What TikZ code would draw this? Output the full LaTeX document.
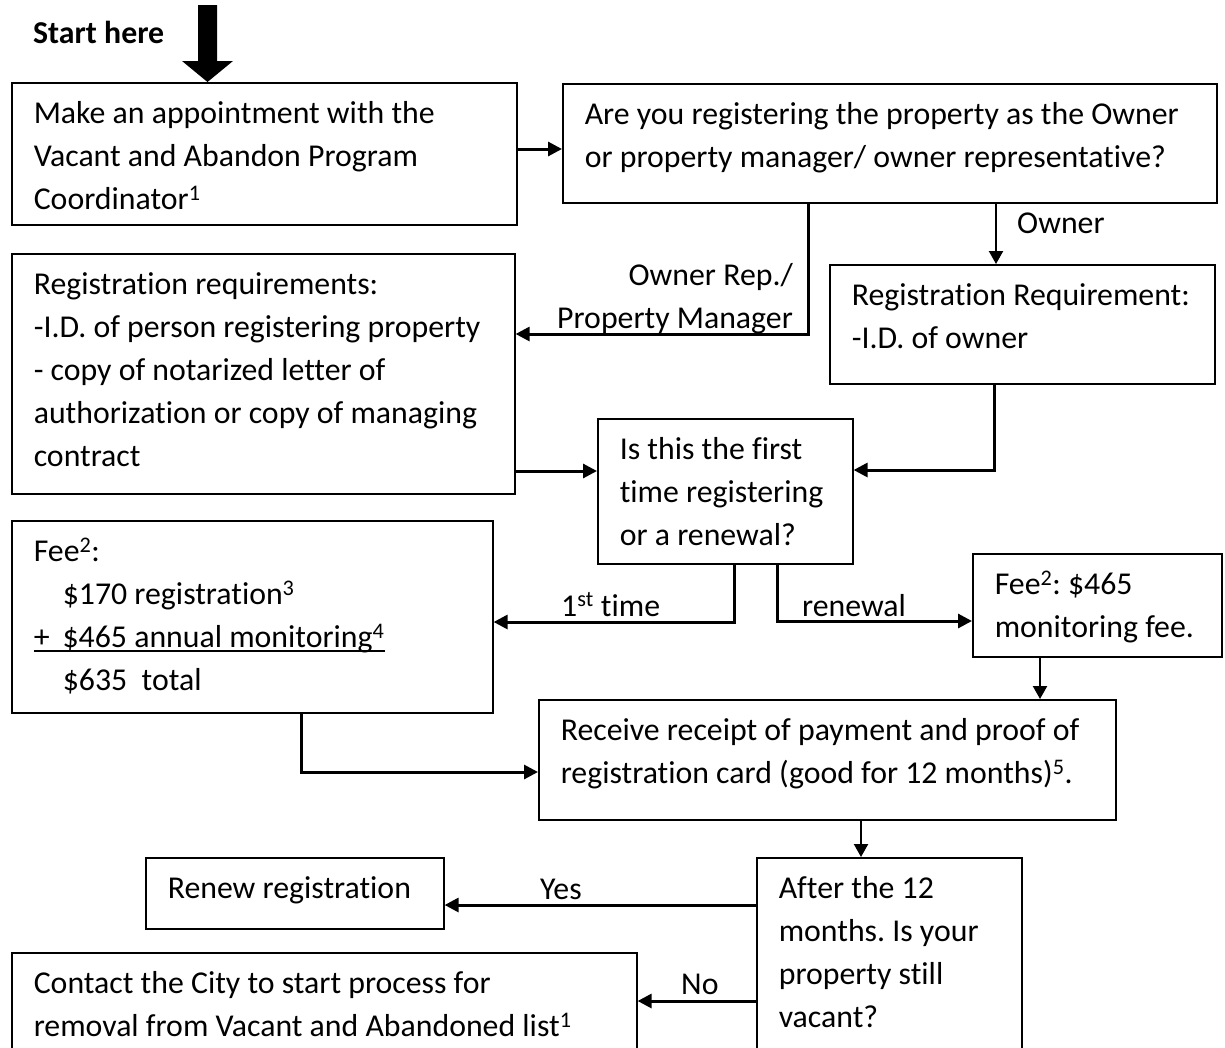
\documentclass[tikz,border=0pt]{standalone}
\usepackage{fontspec}
\setmainfont{Carlito}[Ligatures=NoCommon]
\usetikzlibrary{arrows.meta}
\frenchspacing
\newcommand\lines[1]{\begin{tabular}[t]{@{}l@{}}#1\end{tabular}}
\newcommand\rlines[1]{\begin{tabular}[t]{@{}r@{}}#1\end{tabular}}
\newcommand\bx[3]{\vbox to #2{\vskip 10.9pt\hbox to #1{\hskip 22pt\lines{#3}\hss}\vss}}
\newcommand\myul[1]{\setbox0\hbox{#1}\rlap{\rule[-4.5pt]{\wd0}{2.2pt}}\box0}
\tikzset{
  box/.style={draw, line width=1.6pt, inner sep=0pt, anchor=north west},
  conn/.style={line width=3pt, -{Triangle[length=14pt,width=14pt]}},
  thinconn/.style={line width=2.2pt, -{Triangle[length=13pt,width=14pt]}},
  lbl/.style={inner sep=0pt, anchor=base west},
  rlbl/.style={inner sep=0pt, anchor=base east}
}
\begin{document}
\begin{tikzpicture}[x=1pt, y=-1pt, font=\fontsize{31.8}{43}\selectfont]
\useasboundingbox (0,0) rectangle (1225,1047);
\clip (0,0) rectangle (1225,1047);
\fill[white] (0,0) rectangle (1225,1047);

% boxes
\node[box] (b1) at (11,82) {\bx{505pt}{142pt}{Make an appointment with the\\ Vacant and Abandon Program\\ Coordinator\textsuperscript{1}}};
\node[box] (b2) at (562,83) {\bx{654pt}{119pt}{Are you registering the property as the Owner\\ or property manager/ owner representative?}};
\node[box] (b3) at (11,253) {\bx{503pt}{240pt}{Registration requirements:\\ -I.D. of person registering property\\ - copy of notarized letter of\\ authorization or copy of managing\\ contract}};
\node[box] (b4) at (829,264) {\bx{385pt}{119pt}{Registration Requirement:\\ -I.D. of owner}};
\node[box] (b5) at (597,418) {\bx{255pt}{145pt}{Is this the first\\ time registering\\ or a renewal?}};
\node[box] (b6) at (11,520) {\bx{481pt}{192pt}{Fee\textsuperscript{2}:\\ \hspace*{29pt}\$170 registration\textsuperscript{3}\\ \myul{+\hspace*{13pt}\$465 annual monitoring\textsuperscript{4}}\\ \hspace*{29pt}\$635\ \ total}};
\node[box] (b7) at (972,553) {\bx{249pt}{103pt}{Fee\textsuperscript{2}: \$465\\ monitoring fee.}};
\node[box] (b8) at (538,699) {\bx{577pt}{120pt}{Receive receipt of payment and proof of\\ registration card (good for 12 months)\textsuperscript{5}.}};
\node[box] (b9) at (145,857) {\bx{298pt}{71pt}{Renew registration}};
\node[box] (b10) at (756,857) {\bx{265pt}{213pt}{After the 12\\ months. Is your\\ property still\\ vacant?}};
\node[box] (b11) at (11,952) {\bx{625pt}{118pt}{Contact the City to start process for\\ removal from Vacant and Abandoned list\textsuperscript{1}}};

% start
\node[lbl, font=\fontsize{31.8}{43}\selectfont\bfseries] (st) at (33,43) {Start here};
\coordinate (start) at (207.5,5);
\fill (198,5) -- (217,5) -- (217,61) -- (233,61) -- (b1.north -| start) -- (182,61) -- (198,61) -- cycle;

% connectors
\draw[conn] (b1.east |- 0,149) -- (b2.west |- 0,149);
\draw[conn] (b2.south -| 808,0) |- (b3.east |- 0,334);
\draw[thinconn] (b2.south -| 996,0) -- (b4.north -| 996,0);
\draw[conn] (b3.east |- 0,471) -- (b5.west |- 0,471);
\draw[conn] (b4.south -| 994,0) |- (b5.east |- 0,470);
\draw[conn] (b5.south -| 734,0) |- (b6.east |- 0,622);
\draw[conn] (b5.south -| 777,0) |- (b7.west |- 0,621);
\draw[thinconn] (b7.south -| 1040,0) -- (b8.north -| 1040,0);
\draw[conn] (b6.south -| 301,0) |- (b8.west |- 0,772);
\draw[thinconn] (b8.south -| 861,0) -- (b10.north -| 861,0);
\draw[conn] (b10.west |- 0,905) -- (b9.east |- 0,905);
\draw[conn] (b10.west |- 0,1001) -- (b11.east |- 0,1001);

% labels
\node[rlbl] (lrep) at (793,285) {\rlines{Owner Rep./\\ Property Manager}};
\node[lbl] (lown) at (1017,233) {Owner};
\node[lbl] (lfirst) at (561,616) {1\textsuperscript{st} time};
\node[lbl] (lren) at (802,616) {renewal};
\node[lbl] (lyes) at (540,899) {Yes};
\node[lbl] (lno) at (681,994) {No};
\end{tikzpicture}
\end{document}
